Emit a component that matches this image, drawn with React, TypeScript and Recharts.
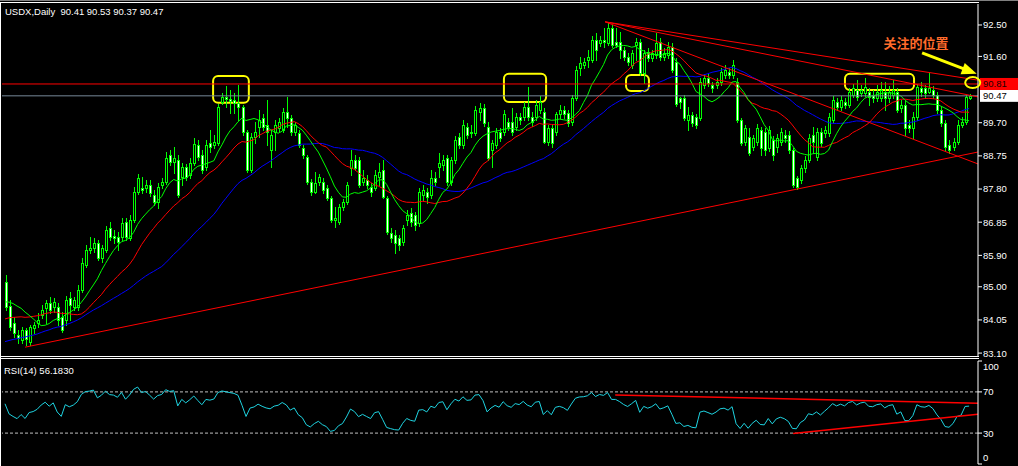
import React from 'react';
import {
    ComposedChart,
    Bar,
    Line,
    XAxis,
    YAxis,
    ReferenceLine,
    ReferenceArea,
    ReferenceDot
} from 'recharts';

// closes of the bars before the first visible one (only feed the MAs and RSI)
const warmupCloses = [
    82.60, 82.45, 82.70, 82.55, 82.80, 82.65, 82.90, 82.75, 82.60, 82.85,
    82.95, 82.70, 82.85, 83.00, 82.80, 82.95, 82.70, 82.85, 83.05, 82.90,
    83.20, 83.45, 83.35, 83.60, 83.80, 83.65, 83.55, 83.70, 83.85, 83.75,
    83.90, 84.10, 84.25, 84.40, 84.60, 84.75, 84.90, 85.10, 85.25
];

const opens = [
    85.14, 84.45, 83.96, 83.62, 83.47, 83.76, 83.42, 83.82, 83.96, 84.19,
    84.39, 84.53, 84.42, 84.42, 84.13, 84.05, 84.68, 84.42, 84.42, 84.91,
    85.62, 86.05, 86.11, 86.25, 85.82, 86.05, 86.68, 86.45, 86.43, 86.43,
    86.86, 86.40, 86.91, 87.72, 87.83, 87.83, 87.92, 87.63, 87.43, 87.92,
    88.00, 88.78, 88.58, 88.63, 88.14, 88.43, 88.20, 88.55, 89.06, 88.78,
    88.43, 89.12, 89.06, 89.12, 90.29, 90.44, 90.38, 90.35, 90.27, 90.15,
    89.43, 88.35, 89.29, 89.58, 89.84, 89.63, 88.92, 89.43, 89.55, 89.49,
    90.01, 89.84, 89.43, 89.41, 88.98, 88.72, 88.00, 87.72, 88.00, 88.00,
    87.83, 87.54, 86.91, 86.86, 87.28, 87.43, 88.40, 88.63, 88.63, 88.00,
    88.06, 87.86, 87.83, 88.14, 88.35, 87.54, 86.54, 86.48, 86.40, 86.28,
    86.91, 87.11, 87.06, 86.83, 87.63, 87.72, 87.63, 88.12, 88.43, 88.49,
    88.69, 88.00, 88.63, 89.29, 89.06, 89.58, 89.43, 89.41, 90.01, 90.12,
    89.58, 88.92, 89.06, 89.43, 89.43, 89.72, 89.72, 89.58, 89.86, 89.86,
    90.15, 89.86, 89.86, 90.06, 90.01, 89.15, 89.55, 89.43, 89.94, 90.06,
    89.98, 89.72, 90.41, 91.27, 91.35, 91.50, 91.50, 92.07, 91.98, 92.07,
    91.98, 92.41, 92.01, 92.01, 91.78, 91.58, 91.35, 91.93, 92.01, 91.13,
    91.73, 91.55, 91.64, 92.01, 91.58, 91.64, 91.87, 91.44, 90.41, 90.41,
    89.78, 89.92, 89.86, 89.84, 90.78, 90.98, 90.78, 90.78, 90.87, 91.07,
    91.15, 91.07, 90.87, 89.78, 89.15, 89.29, 89.00, 89.15, 89.49, 89.43,
    88.98, 89.20, 89.00, 89.15, 89.35, 89.35, 88.92, 88.12, 88.06, 88.40,
    88.63, 89.35, 88.72, 89.43, 89.41, 89.41, 89.78, 90.29, 90.15, 90.29,
    90.21, 90.49, 90.64, 90.55, 90.55, 90.58, 90.49, 90.41, 90.41, 90.58,
    90.41, 90.49, 90.58, 90.12, 90.21, 89.63, 89.55, 89.86, 90.69, 90.69,
    90.58, 90.64, 90.49, 90.06, 89.69, 89.06, 89.00, 89.15, 89.63, 89.72,
    90.41
];

const highs = [
    85.34, 84.62, 84.13, 83.76, 83.85, 83.82, 83.91, 83.99, 84.25, 84.48,
    84.62, 84.71, 84.68, 84.53, 84.28, 84.74, 84.85, 84.71, 85.05, 85.82,
    86.20, 86.43, 86.40, 86.34, 86.20, 86.74, 86.86, 86.63, 86.57, 86.97,
    86.97, 87.06, 87.86, 88.23, 88.14, 88.06, 88.06, 87.77, 87.97, 88.12,
    88.86, 88.92, 89.00, 88.78, 88.55, 88.52, 88.69, 89.26, 89.20, 88.92,
    89.20, 89.49, 89.35, 90.24, 90.55, 90.75, 90.64, 90.55, 90.78, 90.21,
    89.49, 89.41, 89.72, 90.06, 89.95, 90.35, 89.49, 89.78, 89.84, 90.12,
    90.44, 89.92, 89.72, 89.49, 89.06, 88.78, 88.09, 88.29, 88.23, 88.12,
    87.92, 87.60, 87.28, 87.37, 87.51, 88.00, 88.92, 88.78, 88.72, 88.35,
    88.20, 87.97, 88.35, 88.55, 88.63, 87.60, 86.68, 86.63, 86.48, 86.77,
    87.20, 87.26, 87.14, 87.83, 87.92, 87.83, 88.35, 88.29, 88.83, 88.78,
    88.78, 88.72, 89.32, 89.41, 89.78, 89.69, 89.63, 90.18, 90.27, 90.24,
    89.72, 89.20, 89.55, 89.55, 90.06, 89.84, 90.12, 89.98, 89.98, 90.29,
    90.72, 90.01, 90.35, 90.47, 90.12, 89.63, 89.63, 90.01, 90.21, 90.18,
    90.06, 90.49, 91.33, 91.58, 91.55, 91.78, 92.18, 92.27, 92.18, 92.41,
    92.59, 92.50, 92.41, 92.30, 91.87, 91.70, 91.78, 92.13, 92.10, 91.78,
    91.84, 91.78, 92.27, 92.13, 91.84, 92.01, 91.98, 91.55, 90.44, 90.49,
    90.15, 90.01, 89.95, 90.98, 91.10, 91.10, 90.87, 90.98, 91.27, 91.35,
    91.27, 91.50, 90.98, 89.84, 89.63, 89.55, 89.35, 89.66, 89.58, 89.55,
    89.61, 89.32, 89.38, 89.55, 89.49, 89.46, 88.98, 88.17, 88.49, 88.75,
    89.38, 89.58, 89.55, 89.55, 89.61, 89.98, 90.47, 90.41, 90.47, 90.41,
    90.69, 90.81, 90.92, 90.78, 90.98, 90.69, 90.64, 90.78, 90.87, 90.87,
    90.75, 90.92, 90.69, 90.35, 90.35, 89.78, 90.01, 90.81, 90.87, 90.78,
    91.13, 90.75, 90.58, 90.15, 89.78, 89.20, 89.26, 89.78, 89.86, 90.49,
    90.53
];

const lows = [
    84.33, 83.76, 83.56, 83.39, 83.39, 83.33, 83.33, 83.68, 83.85, 84.10,
    83.96, 84.25, 84.28, 83.91, 83.70, 83.91, 84.05, 84.33, 84.33, 84.85,
    85.57, 85.97, 86.00, 85.77, 85.71, 86.00, 86.34, 86.25, 86.05, 86.34,
    86.34, 86.34, 86.86, 87.66, 87.69, 87.72, 87.60, 87.34, 87.26, 87.83,
    87.94, 88.49, 88.26, 87.57, 87.92, 88.06, 88.12, 88.49, 88.63, 88.26,
    88.35, 88.86, 88.98, 89.06, 90.24, 90.15, 89.98, 89.98, 89.78, 89.35,
    88.29, 88.29, 89.12, 89.29, 89.49, 89.06, 88.43, 88.92, 89.46, 89.43,
    89.58, 89.35, 89.35, 89.00, 88.69, 87.94, 87.63, 87.69, 87.92, 87.69,
    87.49, 86.86, 86.71, 86.80, 87.20, 87.37, 88.20, 88.35, 87.86, 87.92,
    87.83, 87.60, 87.77, 87.92, 87.54, 86.51, 86.28, 85.97, 86.05, 86.20,
    86.77, 86.74, 86.63, 86.74, 87.49, 87.40, 87.54, 87.92, 88.14, 88.35,
    87.92, 87.92, 88.55, 88.98, 88.98, 89.26, 89.29, 89.35, 89.78, 89.61,
    88.63, 88.43, 88.98, 89.18, 89.35, 89.49, 89.35, 89.49, 89.66, 89.78,
    89.78, 89.61, 89.78, 89.98, 89.12, 89.06, 89.00, 89.35, 89.84, 89.84,
    89.61, 89.63, 90.35, 91.07, 91.27, 91.30, 91.44, 91.50, 91.90, 91.87,
    91.93, 91.87, 91.87, 91.55, 91.50, 91.35, 91.27, 91.50, 91.07, 90.84,
    91.47, 91.47, 91.55, 91.50, 91.50, 91.55, 91.15, 90.18, 90.12, 89.78,
    89.49, 89.61, 89.55, 89.78, 90.69, 90.75, 90.58, 90.69, 90.78, 90.98,
    90.98, 90.98, 89.72, 89.06, 89.06, 88.78, 88.92, 89.06, 88.78, 88.78,
    88.89, 88.63, 88.86, 89.06, 89.15, 88.83, 87.86, 87.80, 87.97, 88.29,
    88.58, 88.83, 88.63, 89.03, 89.29, 89.32, 89.72, 90.06, 90.06, 90.12,
    90.15, 90.44, 90.35, 90.47, 90.47, 90.21, 90.29, 90.32, 90.32, 90.06,
    90.29, 90.41, 90.01, 90.01, 89.35, 89.43, 89.26, 89.78, 90.47, 90.44,
    90.55, 90.41, 89.98, 89.61, 88.92, 88.83, 88.92, 89.09, 89.58, 89.66,
    90.37
];

const closes = [
    84.42, 83.85, 83.68, 83.53, 83.76, 83.50, 83.85, 83.91, 84.05, 84.33,
    84.53, 84.33, 84.56, 84.05, 83.76, 84.62, 84.48, 84.62, 84.91, 85.68,
    86.05, 86.11, 86.25, 85.82, 86.11, 86.63, 86.43, 86.40, 86.28, 86.83,
    86.43, 86.91, 87.72, 88.12, 87.77, 87.92, 87.69, 87.43, 87.86, 88.00,
    88.69, 88.58, 88.69, 87.63, 88.43, 88.14, 88.55, 89.09, 88.72, 88.35,
    89.06, 89.00, 89.15, 90.15, 90.44, 90.38, 90.32, 90.27, 90.15, 89.43,
    88.35, 89.29, 89.43, 89.78, 89.58, 89.43, 89.35, 89.63, 89.72, 90.01,
    89.84, 89.43, 89.63, 89.06, 88.78, 88.00, 87.72, 87.97, 88.14, 87.77,
    87.54, 86.91, 86.97, 87.28, 87.43, 87.92, 88.63, 88.40, 87.92, 88.12,
    87.92, 87.72, 88.20, 88.29, 87.57, 86.57, 86.40, 86.25, 86.20, 86.68,
    87.06, 86.86, 86.77, 87.72, 87.77, 87.57, 88.12, 88.00, 88.55, 88.63,
    88.00, 88.63, 89.20, 89.06, 89.63, 89.35, 89.41, 90.06, 90.12, 89.69,
    88.69, 89.12, 89.43, 89.26, 89.94, 89.58, 89.43, 89.86, 89.78, 90.15,
    89.86, 89.72, 90.21, 90.29, 89.15, 89.55, 89.12, 89.94, 90.06, 89.94,
    89.69, 90.41, 91.21, 91.41, 91.44, 91.58, 92.07, 91.78, 92.07, 92.01,
    92.41, 91.93, 91.93, 91.78, 91.58, 91.44, 91.70, 92.01, 91.13, 91.70,
    91.55, 91.70, 91.98, 91.58, 91.70, 91.87, 91.21, 90.24, 90.29, 89.84,
    89.92, 89.69, 89.63, 90.87, 90.98, 90.84, 90.69, 90.87, 91.15, 91.21,
    91.07, 91.35, 89.78, 89.12, 89.55, 88.83, 89.26, 89.55, 88.98, 88.92,
    89.49, 88.78, 89.26, 89.43, 89.26, 88.92, 87.92, 87.86, 88.40, 88.63,
    89.26, 89.15, 89.43, 89.12, 89.49, 89.86, 90.35, 90.15, 90.35, 90.21,
    90.58, 90.69, 90.44, 90.64, 90.72, 90.44, 90.41, 90.58, 90.64, 90.41,
    90.58, 90.64, 90.06, 90.21, 89.55, 89.55, 89.86, 90.72, 90.58, 90.55,
    90.69, 90.49, 90.06, 89.69, 89.00, 88.92, 89.15, 89.63, 89.72, 90.44,
    90.47
];

const priceTicks = [83.10, 84.05, 85.00, 85.90, 86.85, 87.80, 88.75, 89.70, 91.60, 92.50];
const rsiTicks = [0, 30, 70, 100];

const RED_LEVEL = 90.81;
const BID_LEVEL = 90.47;

// drawn objects, in bar index / price
const priceTrendlines = [
    [{ x: 5.0, y: 83.27 }, { x: 242.2, y: 88.86 }],
    [{ x: 149.4, y: 92.59 }, { x: 242.2, y: 90.92 }],
    [{ x: 149.4, y: 92.59 }, { x: 242.2, y: 90.44 }],
    [{ x: 149.4, y: 92.59 }, { x: 242.2, y: 88.52 }]
];
const rsiTrendlines = [
    [{ x: 151.9, y: 67.1 }, { x: 242.2, y: 59.0 }],
    [{ x: 196.2, y: 29.7 }, { x: 242.2, y: 48.2 }]
];
const markBoxes = [
    { x1: 51.8, x2: 60.7, y1: 90.27, y2: 91.04 },
    { x1: 124.2, x2: 134.7, y1: 90.29, y2: 91.10 },
    { x1: 154.6, x2: 160.3, y1: 90.61, y2: 91.07 },
    { x1: 209.1, x2: 226.3, y1: 90.64, y2: 91.10 }
];
const markCircle = { x: 240.9, y: 90.85 };
const arrowFrom = { x: 228.3, y: 91.70 };
const arrowTo = { x: 238.7, y: 91.24 };
const arrowTip = { x: 241.9, y: 91.10 };
const noteAt = { x: 226.8, y: 91.98 };
const noteText = '关注的位置';

const X_DOMAIN = [-0.75, 242.22];
const FONT = '"Liberation Sans", Arial, sans-serif';

const allCloses = [...warmupCloses, ...closes];
const OFF = warmupCloses.length;

const sma = (k: number, n: number) => {
    if (k - n + 1 < 0) return undefined;
    let s = 0;
    for (let j = k - n + 1; j <= k; j++) s += allCloses[j];
    return s / n;
};

// RSI(14), Wilder smoothing
const rsiAll: (number | undefined)[] = [];
{
    let ag = 0, al = 0;
    for (let k = 0; k < allCloses.length; k++) {
        if (k === 0) { rsiAll.push(undefined); continue; }
        const d = allCloses[k] - allCloses[k - 1];
        const g = d > 0 ? d : 0, l = d < 0 ? -d : 0;
        if (k <= 14) {
            ag += g / 14; al += l / 14;
            rsiAll.push(k === 14 ? 100 - 100 / (1 + ag / (al || 1e-9)) : undefined);
        } else {
            ag = (ag * 13 + g) / 14;
            al = (al * 13 + l) / 14;
            rsiAll.push(100 - 100 / (1 + ag / (al || 1e-9)));
        }
    }
}

const candles = closes.map((c, i) => ({
    i,
    o: opens[i],
    h: highs[i],
    l: lows[i],
    c,
    range: [lows[i], highs[i]],
    ma10: sma(OFF + i, 10),
    ma20: sma(OFF + i, 20),
    ma40: sma(OFF + i, 40)
}));

const rsiData = closes.map((_, i) => ({ i, rsi: rsiAll[OFF + i] }));

const Candle = (props: any) => {
    const { x, y, width, height, payload } = props;
    if (x == null || !payload) return null;
    const top = Math.min(y, y + height);
    const bot = Math.max(y, y + height);
    const span = payload.h - payload.l || 1;
    const py = (v: number) => top + ((payload.h - v) / span) * (bot - top);
    const cx = Math.round(x + width / 2);
    const bt = Math.round(py(Math.max(payload.o, payload.c)));
    const bb = Math.round(py(Math.min(payload.o, payload.c)));
    // bull bodies hollow (black), bear bodies white-filled
    const inner = payload.c >= payload.o ? '#000000' : '#ffffff';
    return (
        <g shapeRendering="crispEdges">
            <rect x={cx} y={Math.round(top)} width={1} height={Math.max(1, Math.round(bot) - Math.round(top) + 1)} fill="#00ff00" />
            <rect x={cx - 1} y={bt} width={3} height={Math.max(1, bb - bt + 1)} fill="#00ff00" />
            {bb - bt > 1 && <rect x={cx} y={bt + 1} width={1} height={bb - bt - 1} fill={inner} />}
        </g>
    );
};

const PriceTick = (p: any) => (
    <text x={p.x} y={p.y} dy="0.36em" fill="#ffffff" fontSize={9.5} fontFamily={FONT}>
        {Number(p.payload.value).toFixed(2)}
    </text>
);

const RsiTick = (p: any) => {
    const v = p.payload.value;
    const shift = v === 100 ? 6 : v === 0 ? -6 : 0;
    return (
        <text x={p.x} y={p.y + shift} dy="0.36em" fill="#ffffff" fontSize={9.5} fontFamily={FONT}>
            {v}
        </text>
    );
};

const tagLabel = (text: string, bg: string, fg: string) => (p: any) => {
    const vb = p.viewBox || {};
    const x = (vb.x || 0) + (vb.width || 0) + 2;
    const y = vb.y || 0;
    return (
        <g>
            <rect x={x} y={y - 6} width={38} height={12} fill={bg} />
            <text x={x + 3} y={y} dy="0.36em" fill={fg} fontSize={9.5} fontFamily={FONT}>{text}</text>
        </g>
    );
};

const RoundBox = (p: any) => (
    <rect x={p.x} y={p.y} width={p.width} height={p.height} rx={5} ry={5}
        fill="none" stroke="#ffff00" strokeWidth={2} />
);

const ArrowHead = (p: any) => {
    const { cx, cy } = p;
    const dx = 0.937, dy = 0.347, len = 15, half = 6;
    const bx = cx - dx * len, by = cy - dy * len;
    const pts = `${cx},${cy} ${bx - dy * half},${by + dx * half} ${bx + dy * half},${by - dx * half}`;
    return <polygon points={pts} fill="#ffff00" />;
};

const line = (top: number, left: number, width: number, height: number, color: string) => (
    <div style={{ position: 'absolute', top, left, width, height, background: color }} />
);

const App = () => {
    return (
        <div style={{ position: 'fixed', left: 0, top: 0, width: 1018, height: 466, background: '#000', overflow: 'hidden' }}>
            {line(0, 0, 1018, 1, '#808080')}
            {line(2, 0, 979, 1, '#ffffff')}
            {line(2, 0, 1, 464, '#ffffff')}
            {line(356, 0, 979, 1, '#ffffff')}
            {line(358, 0, 979, 1, '#ffffff')}

            <div style={{ position: 'absolute', left: 0, top: 0 }}>
                <ComposedChart width={1018} height={358} data={candles}
                    margin={{ top: 4, right: 0, bottom: 2, left: 2 }}>
                    <XAxis dataKey="i" type="number" domain={X_DOMAIN} allowDataOverflow hide />
                    <YAxis orientation="right" width={40} type="number" domain={[83.017, 93.101]}
                        allowDataOverflow ticks={priceTicks} interval={0} tick={PriceTick}
                        tickSize={4} tickMargin={1} axisLine={{ stroke: '#ffffff' }} tickLine={{ stroke: '#ffffff' }} />
                    <Bar dataKey="range" barSize={3} shape={(p: any) => <Candle {...p} />} isAnimationActive={false} />
                    <Line dataKey="ma40" type="linear" stroke="#0000ff" strokeWidth={1} dot={false} isAnimationActive={false} />
                    <Line dataKey="ma20" type="linear" stroke="#ff0000" strokeWidth={1} dot={false} isAnimationActive={false} />
                    <Line dataKey="ma10" type="linear" stroke="#00ff00" strokeWidth={1} dot={false} isAnimationActive={false} />
                    <ReferenceLine y={BID_LEVEL} stroke="#778899" label={tagLabel('90.47', '#ffffff', '#000000')} />
                    <ReferenceLine y={RED_LEVEL} stroke="#ff0000" label={tagLabel('90.81', '#ff0000', '#200000')} />
                    {priceTrendlines.map((seg, k) => (
                        <ReferenceLine key={`tl-${k}`} segment={seg} stroke="#ff0000" ifOverflow="hidden" />
                    ))}
                    {markBoxes.map((b, k) => (
                        <ReferenceArea key={`box-${k}`} x1={b.x1} x2={b.x2} y1={b.y1} y2={b.y2}
                            ifOverflow="visible" shape={(p: any) => <RoundBox {...p} />} />
                    ))}
                    <ReferenceDot x={markCircle.x} y={markCircle.y} ifOverflow="visible"
                        shape={(p: any) => <ellipse cx={p.cx} cy={p.cy} rx={7.5} ry={5.5} fill="none" stroke="#ffff00" strokeWidth={2} />} />
                    <ReferenceLine segment={[arrowFrom, arrowTo]} stroke="#ffff00" strokeWidth={3} ifOverflow="visible" />
                    <ReferenceDot x={arrowTip.x} y={arrowTip.y} ifOverflow="visible" shape={(p: any) => <ArrowHead {...p} />} />
                    <ReferenceDot x={noteAt.x} y={noteAt.y} ifOverflow="visible"
                        shape={(p: any) => (
                            <text x={p.cx} y={p.cy} dy="0.36em" textAnchor="middle" fill="#ff6b2b" fontSize={13}
                                fontWeight="bold" fontFamily='"Noto Sans CJK SC", sans-serif'>{noteText}</text>
                        )} />
                </ComposedChart>
            </div>

            <div style={{ position: 'absolute', left: 0, top: 358 }}>
                <ComposedChart width={1018} height={108} data={rsiData}
                    margin={{ top: 3, right: 0, bottom: 2, left: 2 }}>
                    <XAxis dataKey="i" type="number" domain={X_DOMAIN} allowDataOverflow hide />
                    <YAxis orientation="right" width={40} type="number" domain={[0, 100]}
                        ticks={rsiTicks} interval={0} tick={RsiTick} tickSize={4} tickMargin={1}
                        axisLine={{ stroke: '#ffffff' }} tickLine={{ stroke: '#ffffff' }} />
                    <ReferenceLine y={70} stroke="#c0c0c0" strokeDasharray="3 2" />
                    <ReferenceLine y={30} stroke="#c0c0c0" strokeDasharray="3 2" />
                    <Line dataKey="rsi" type="linear" stroke="#1fd3e0" strokeWidth={1} dot={false} isAnimationActive={false} />
                    {rsiTrendlines.map((seg, k) => (
                        <ReferenceLine key={`rtl-${k}`} segment={seg} stroke="#ff0000" strokeWidth={1.5} ifOverflow="hidden" />
                    ))}
                </ComposedChart>
            </div>

            <div style={{ position: 'absolute', left: 5, top: 6, color: '#fff', fontFamily: FONT, fontSize: 9.5, lineHeight: '11px', whiteSpace: 'pre' }}>
                USDX,Daily  90.41 90.53 90.37 90.47
            </div>
            <div style={{ position: 'absolute', left: 4, top: 365, color: '#fff', fontFamily: FONT, fontSize: 9.5, lineHeight: '11px', whiteSpace: 'pre' }}>
                RSI(14) 56.1830
            </div>
        </div>
    );
};

export default App;
